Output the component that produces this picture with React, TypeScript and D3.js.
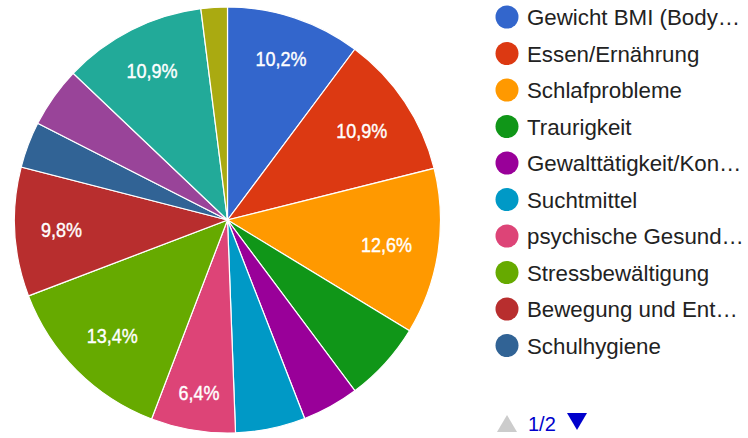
import React from "react";
import * as d3 from "d3";

const categories = [
  "Gewicht BMI (Body…",
  "Essen/Ernährung",
  "Schlafprobleme",
  "Traurigkeit",
  "Gewalttätigkeit/Kon…",
  "Suchtmittel",
  "psychische Gesund…",
  "Stressbewältigung",
  "Bewegung und Ent…",
  "Schulhygiene",
  "Kategorie 11",
  "Kategorie 12",
  "Kategorie 13",
];
const values = [10.2, 10.9, 12.6, 6.1, 4.3, 5.3, 6.4, 13.4, 9.8, 3.5, 4.6, 10.9, 2.0];
const colors = [
  "#3366cc", "#dc3912", "#ff9900", "#109618", "#990099", "#0099c6",
  "#dd4477", "#66aa00", "#b82e2e", "#316395", "#994499", "#22aa99", "#aaaa11",
];
const labelThreshold = 6.3;
const legendPageSize = 10;
const pageLabel = "1/2";

const W = 748, H = 438;
const cx = 227.5, cy = 220, R = 213;
const FONT = "'Liberation Sans', Arial, sans-serif";
const labelFont = 21;
const labelWidthFont = 18;

function textWidth(s: string, fs: number) {
  let w = 0;
  for (const ch of s) {
    if (/[0-9]/.test(ch)) w += 0.556;
    else if (ch === ",") w += 0.278;
    else if (ch === "%") w += 0.889;
    else w += 0.55;
  }
  return w * fs;
}

export default function App() {
  const total = d3.sum(values);
  const pie = d3.pie<number>().sort(null).value((d) => d);
  const arcs = pie(values);
  const arcGen = d3.arc<d3.PieArcDatum<number>>().innerRadius(0).outerRadius(R);
  const fmt = (v: number) => ((v / total) * 100).toFixed(1).replace(".", ",") + "%";

  const labels = arcs
    .map((a, i) => {
      const pct = (values[i] / total) * 100;
      if (pct < labelThreshold) return null;
      const txt = fmt(values[i]);
      const w = textWidth(txt, labelWidthFont);
      const h = 17;
      const mid = (a.startAngle + a.endAngle) / 2;
      const ux = Math.sin(mid), uy = -Math.cos(mid);
      const limit = 0.88 * R;
      let lo = 0, hi = R;
      for (let k = 0; k < 40; k++) {
        const d = (lo + hi) / 2;
        const x = d * ux, y = d * uy;
        const fx = Math.abs(x) + w / 2, fy = Math.abs(y) + h / 2;
        if (Math.hypot(fx, fy) > limit) hi = d; else lo = d;
      }
      return { x: cx + lo * ux, y: cy + lo * uy, txt, w, i };
    })
    .filter(Boolean) as { x: number; y: number; txt: string; w: number; i: number }[];

  const legendItems = categories.slice(0, legendPageSize);
  const legendY = d3.scalePoint<number>().domain(d3.range(legendPageSize)).range([17, 345.5]);

  return (
    <svg width={W} height={H} style={{ position: "absolute", left: 0, top: 0, background: "#fff" }} fontFamily={FONT}>
      <g>
        {arcs.map((a, i) => (
          <path key={i} d={arcGen(a) || ""} transform={`translate(${cx},${cy})`} fill={colors[i]} stroke="#fff" strokeWidth={1.2} />
        ))}
        {labels.map((l) => (
          <text
            key={l.i}
            x={l.x - l.w / 2}
            y={l.y + labelFont * 0.36}
            textLength={l.w}
            lengthAdjust="spacingAndGlyphs"
            fill="#fff"
            stroke="#fff"
            strokeWidth={0.4}
            fontSize={labelFont}
          >
            {l.txt}
          </text>
        ))}
      </g>
      <g>
        {legendItems.map((c, i) => (
          <g key={i} transform={`translate(0,${legendY(i)})`}>
            <circle cx={507} cy={0} r={11.5} fill={colors[i]} />
            <text x={527} y={8} fontSize={22.3} fill="#222">{c}</text>
          </g>
        ))}
      </g>
      <g>
        <path d="M497,432 L507,415 L517,432 Z" fill="#cccccc" />
        <text x={528} y={431} fontSize={20} fill="#0000cc">{pageLabel}</text>
        <path d="M567,413 L587,413 L577,430 Z" fill="#0000cc" />
      </g>
    </svg>
  );
}
